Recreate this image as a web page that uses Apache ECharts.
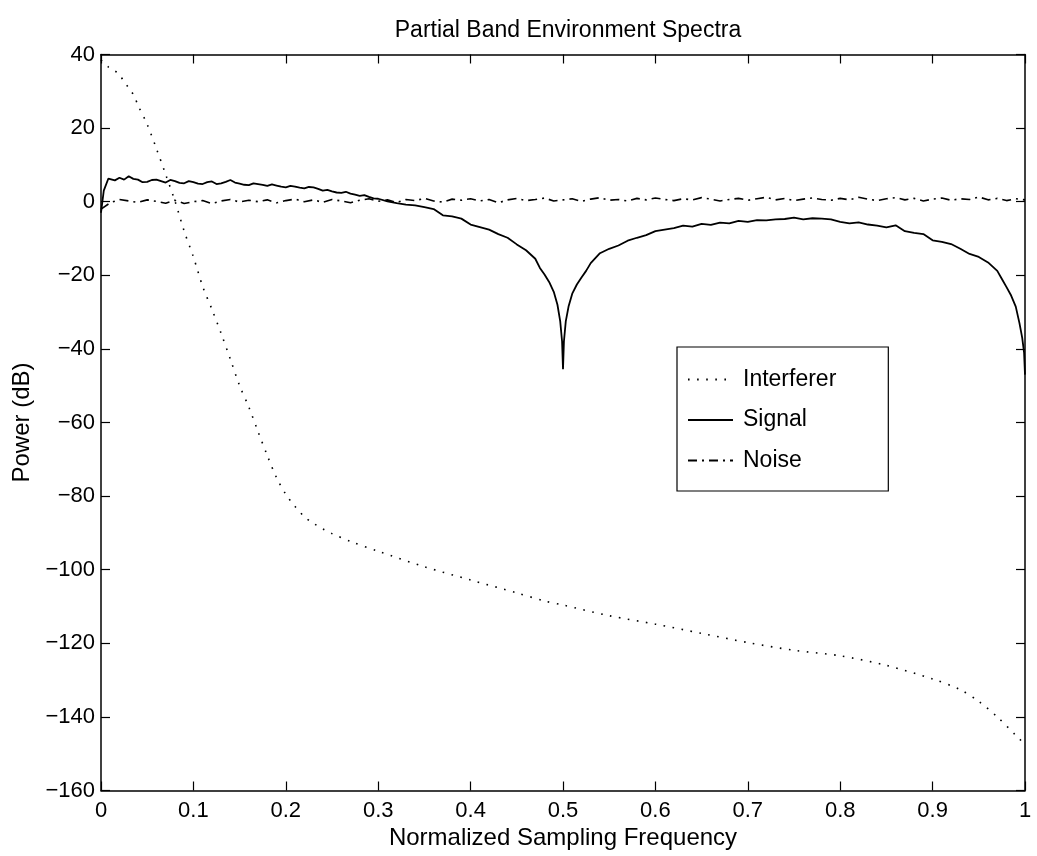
<!DOCTYPE html>
<html>
<head>
<meta charset="utf-8">
<title>Partial Band Environment Spectra</title>
<script src="https://cdn.jsdelivr.net/npm/echarts@6/dist/echarts.min.js"></script>
<style>
  html, body { margin: 0; padding: 0; background: #fff; }
  #chart { width: 1037px; height: 856px; }
</style>
</head>
<body>
<div id="chart"></div>
<script>
// Spectra (power in dB vs normalized frequency)
var interfererFreq = [0, 0.008, 0.019, 0.024, 0.03, 0.036, 0.04, 0.05, 0.06, 0.07, 0.08, 0.09,
  0.10, 0.11, 0.12, 0.13, 0.14, 0.15, 0.16, 0.17, 0.18, 0.19, 0.20, 0.21, 0.22, 0.23, 0.24, 0.25,
  0.27, 0.30, 0.35, 0.40, 0.45, 0.48, 0.50, 0.55, 0.60, 0.65, 0.70, 0.75, 0.80, 0.85, 0.90, 0.93,
  0.95, 0.97, 0.99, 1.0];
var interfererPower = [38.5, 36.6, 34.8, 33.0, 30.9, 28.7, 26.2, 21.0, 14.4, 7.4, 0.2, -8.0,
  -15.0, -23.0, -29.2, -35.8, -42.8, -50.0, -55.8, -62.5, -69.0, -75.0, -79.5, -82.8, -85.6, -87.4, -88.9, -90.2,
  -92.3, -95.0, -99.2, -102.8, -106.3, -108.5, -109.6, -112.5, -114.8, -117.3, -119.8, -121.9, -123.4, -126.0, -129.7, -132.6,
  -135.8, -140.0, -145.0, -147.5];

var signalFreq = [0, 0.003, 0.008, 0.015, 0.02, 0.025, 0.03, 0.035, 0.04, 0.045, 0.05, 0.055, 0.06, 0.065, 0.07, 0.075, 0.08, 0.085, 0.09, 0.095,
  0.10, 0.105, 0.11, 0.115, 0.12, 0.125, 0.13, 0.135, 0.14, 0.145, 0.15, 0.155, 0.16, 0.165, 0.17, 0.175, 0.18, 0.185, 0.19, 0.195,
  0.20, 0.205, 0.21, 0.215, 0.22, 0.225, 0.23, 0.235, 0.24, 0.245, 0.25, 0.255, 0.26, 0.265, 0.27, 0.275, 0.28, 0.285, 0.29, 0.295,
  0.30, 0.31, 0.32, 0.33, 0.34, 0.35, 0.36, 0.37, 0.38, 0.39,
  0.40, 0.41, 0.42, 0.43, 0.44, 0.45, 0.46, 0.47, 0.475, 0.48, 0.485, 0.49, 0.494, 0.497, 0.499,
  0.50, 0.501, 0.503, 0.506, 0.51, 0.515, 0.52, 0.525, 0.53, 0.54, 0.55, 0.56, 0.57, 0.58, 0.59,
  0.60, 0.61, 0.62, 0.63, 0.64, 0.65, 0.66, 0.67, 0.68, 0.69,
  0.70, 0.71, 0.72, 0.73, 0.74, 0.75, 0.76, 0.77, 0.78, 0.79,
  0.80, 0.81, 0.82, 0.83, 0.84, 0.85, 0.86, 0.87, 0.88, 0.89,
  0.90, 0.91, 0.92, 0.93, 0.94, 0.95, 0.96, 0.97, 0.975, 0.98, 0.985, 0.99, 0.994, 0.997, 0.999, 1.0];
var signalPower = [-3.0, 3.0, 6.3, 5.8, 6.5, 6.0, 6.9, 6.2, 6.0, 5.3, 5.4, 5.9, 6.0, 5.6, 5.2, 5.9, 5.6, 5.1, 5.0, 5.6,
  5.3, 4.9, 4.8, 5.3, 5.5, 4.8, 5.0, 5.4, 5.9, 5.2, 4.9, 4.6, 4.5, 5.0, 4.8, 4.6, 4.3, 4.7, 4.4, 4.1,
  3.9, 4.3, 4.1, 3.8, 3.6, 4.0, 3.9, 3.5, 3.0, 3.2, 2.8, 2.5, 2.4, 2.7, 2.2, 1.9, 1.6, 1.8, 1.3, 0.9,
  0.8, 0.1, -0.4, -0.8, -1.0, -1.5, -2.0, -3.7, -4.0, -4.6,
  -6.2, -6.9, -7.6, -8.8, -9.8, -11.6, -13.2, -15.5, -18.0, -19.8, -21.8, -24.5, -28.0, -32.5, -38.0,
  -45.5, -38.0, -32.5, -28.5, -25.0, -22.5, -20.6, -18.8, -16.7, -14.0, -12.8, -11.9, -10.6, -9.8, -9.1,
  -8.0, -7.6, -7.2, -6.5, -6.8, -6.0, -6.3, -5.7, -5.9, -5.2,
  -5.5, -5.0, -5.1, -4.8, -4.7, -4.3, -4.8, -4.5, -4.6, -4.8,
  -5.5, -5.9, -5.6, -6.2, -6.5, -7.0, -6.4, -8.0, -8.5, -8.8,
  -10.5, -10.9, -11.5, -12.8, -14.2, -15.0, -16.5, -18.8, -21.0, -23.2, -25.5, -28.5, -33.0, -37.0, -41.0, -47.0];

var noiseFreq = [0, 0.01, 0.02, 0.03, 0.04, 0.05, 0.06, 0.07, 0.08, 0.09,
  0.10, 0.11, 0.12, 0.13, 0.14, 0.15, 0.16, 0.17, 0.18, 0.19,
  0.20, 0.21, 0.22, 0.23, 0.24, 0.25, 0.26, 0.27, 0.28, 0.29,
  0.30, 0.31, 0.32, 0.33, 0.34, 0.35, 0.36, 0.37, 0.38, 0.39,
  0.40, 0.41, 0.42, 0.43, 0.44, 0.45, 0.46, 0.47, 0.48, 0.49,
  0.50, 0.51, 0.52, 0.53, 0.54, 0.55, 0.56, 0.57, 0.58, 0.59,
  0.60, 0.61, 0.62, 0.63, 0.64, 0.65, 0.66, 0.67, 0.68, 0.69,
  0.70, 0.71, 0.72, 0.73, 0.74, 0.75, 0.76, 0.77, 0.78, 0.79,
  0.80, 0.81, 0.82, 0.83, 0.84, 0.85, 0.86, 0.87, 0.88, 0.89,
  0.90, 0.91, 0.92, 0.93, 0.94, 0.95, 0.96, 0.97, 0.98, 0.99, 1.0];
var noisePower = [-2.0, -0.3, 0.6, 0.2, -0.2, 0.5, 0.1, -0.4, 0.4, -0.5,
  0.0, 0.3, -0.5, 0.2, 0.6, -0.1, 0.4, 0.0, 0.5, -0.3,
  0.3, 0.7, 0.0, 0.5, -0.2, 0.6, 0.2, -0.3, 0.4, 0.8,
  0.1, 0.5, -0.2, 0.6, 0.3, 0.9, 0.2, -0.1, 0.7, 0.4,
  0.8, 0.2, 0.6, -0.3, 0.5, 0.9, 0.3, 0.6, 1.0, 0.2,
  0.5, 0.8, 0.1, 0.7, 1.1, 0.4, 0.6, 0.2, 0.9, 0.5,
  1.0, 0.6, 0.3, 0.8, 0.5, 1.1, 0.7, 0.2, 0.6, 0.9,
  0.4, 0.8, 1.2, 0.5, 0.9, 0.3, 0.7, 1.0, 0.6, 0.4,
  0.9, 0.5, 1.2, 0.7, 0.3, 0.8, 1.1, 0.5, 0.9, 0.2,
  0.7, 1.0, 0.4, 0.8, 0.6, 1.3, 0.5, 0.9, 0.3, 0.8, 0.5];

var seriesNames = ['Interferer', 'Signal', 'Noise'];
var xRange = [0, 1, 0.1];      // min, max, tick step
var yRange = [-160, 40, 20];

function pairs(xs, ys) {
  return xs.map(function(x, i) { return [x, ys[i]]; });
}

var font = '"Liberation Sans", Arial, Helvetica, sans-serif';
var ink = '#000';

var chart = echarts.init(document.getElementById('chart'), null, { renderer: 'canvas' });

var tickStyle = { inside: true, length: 9, lineStyle: { color: ink, width: 1.2 } };
var lineAxis = { show: true, onZero: false, lineStyle: { color: ink, width: 1.5 } };

chart.setOption({
  animation: false,
  backgroundColor: '#fff',
  title: {
    text: 'Partial Band Environment Spectra',
    left: 563,
    textAlign: 'center',
    top: 14,
    textStyle: { color: ink, fontSize: 23, fontWeight: 'normal', fontFamily: font }
  },
  legend: {
    data: seriesNames,
    orient: 'vertical',
    left: 677,
    top: 347,
    padding: [21, 52, 19, 10],
    itemWidth: 45,
    itemHeight: 14,
    itemGap: 17.5,
    backgroundColor: '#fff',
    borderColor: ink,
    borderWidth: 1.2,
    borderRadius: 0,
    itemStyle: { opacity: 0 },
    textStyle: { color: ink, fontSize: 23, fontFamily: font, padding: [0, 0, 0, 5] }
  },
  grid: { left: 101, right: 12, top: 54.5, bottom: 65.5, containLabel: false },
  xAxis: [
    {
      type: 'value',
      min: xRange[0], max: xRange[1], interval: xRange[2],
      name: 'Normalized Sampling Frequency',
      nameLocation: 'middle',
      nameGap: 30,
      nameTextStyle: { color: ink, fontSize: 24, fontFamily: font },
      axisLine: lineAxis,
      axisTick: tickStyle,
      axisLabel: { color: ink, fontSize: 22, fontFamily: font, margin: 9 },
      splitLine: { show: false }
    },
    {
      type: 'value', position: 'top',
      min: xRange[0], max: xRange[1], interval: xRange[2],
      axisLine: lineAxis,
      axisTick: tickStyle,
      axisLabel: { show: false },
      splitLine: { show: false }
    }
  ],
  yAxis: [
    {
      type: 'value',
      min: yRange[0], max: yRange[1], interval: yRange[2],
      name: 'Power (dB)',
      nameLocation: 'middle',
      nameGap: 64,
      nameTextStyle: { color: ink, fontSize: 24, fontFamily: font },
      axisLine: lineAxis,
      axisTick: tickStyle,
      axisLabel: {
        color: ink, fontSize: 22, fontFamily: font, margin: 6,
        formatter: function(v) { return String(v).replace('-', '\u2212'); }
      },
      splitLine: { show: false }
    },
    {
      type: 'value', position: 'right',
      min: yRange[0], max: yRange[1], interval: yRange[2],
      axisLine: lineAxis,
      axisTick: tickStyle,
      axisLabel: { show: false },
      splitLine: { show: false }
    }
  ],
  series: [
    {
      name: seriesNames[0],
      type: 'line',
      symbol: 'none',
      smooth: 0.3,
      data: pairs(interfererFreq, interfererPower),
      lineStyle: { color: ink, width: 1.6, type: [1.6, 7.5] },
      itemStyle: { color: ink }
    },
    {
      name: seriesNames[1],
      type: 'line',
      symbol: 'none',
      data: pairs(signalFreq, signalPower),
      lineStyle: { color: ink, width: 1.8 },
      itemStyle: { color: ink }
    },
    {
      name: seriesNames[2],
      type: 'line',
      symbol: 'none',
      data: pairs(noiseFreq, noisePower),
      lineStyle: { color: ink, width: 1.6, type: [9, 5, 2, 5] },
      itemStyle: { color: ink }
    }
  ]
});
window.addEventListener('resize', function() { chart.resize(); });
</script>
</body>
</html>
